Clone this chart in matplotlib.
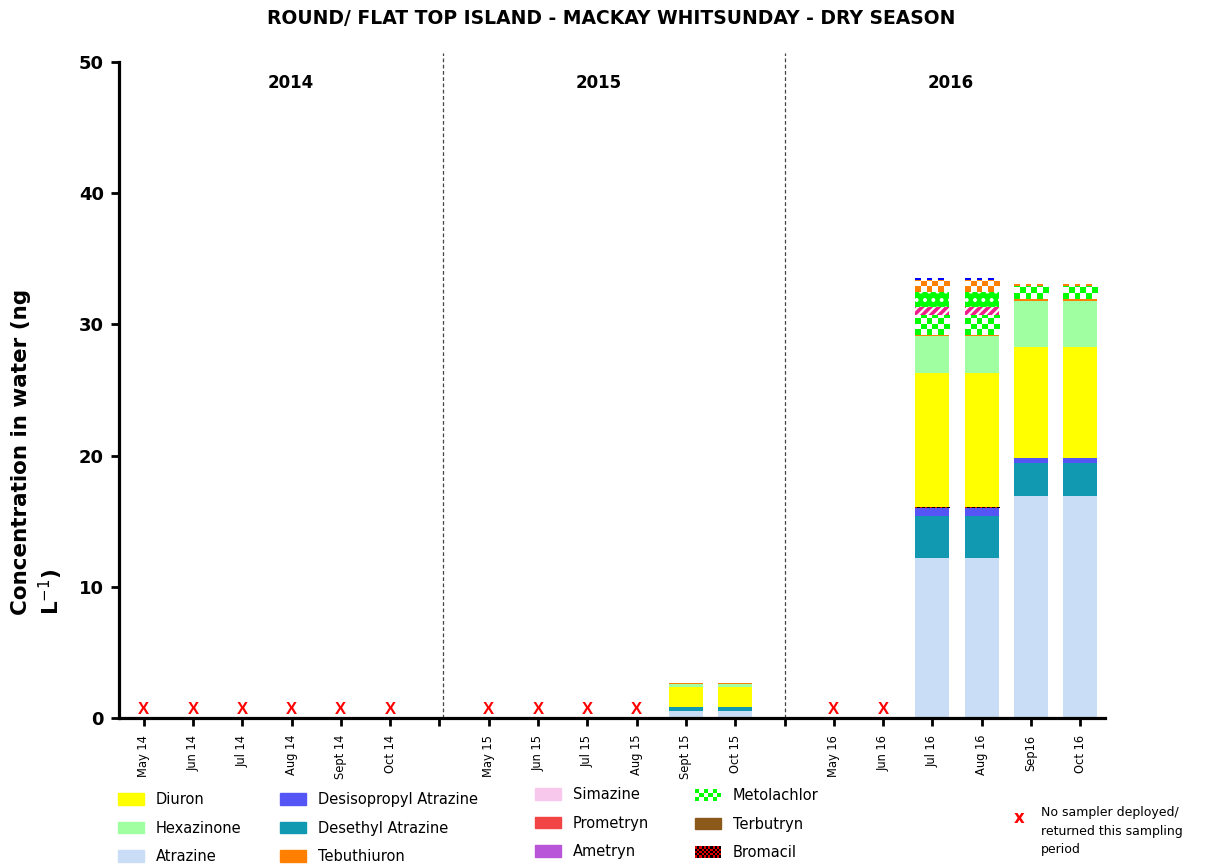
import numpy as np
import matplotlib
matplotlib.use("Agg")
import matplotlib.pyplot as plt
from matplotlib.patches import Rectangle, Patch
from matplotlib.legend_handler import HandlerBase
from matplotlib.colors import to_rgba

plt.rcParams["font.family"] = ["DejaVu Sans"]
plt.rcParams["hatch.linewidth"] = 1.6

# Sampling periods (dry season, May-Oct) and whether a passive sampler was returned
periods = ["May 14", "Jun 14", "Jul 14", "Aug 14", "Sept 14", "Oct 14",
           "May 15", "Jun 15", "Jul 15", "Aug 15", "Sept 15", "Oct 15",
           "May 16", "Jun 16", "Jul 16", "Aug 16", "Sep16", "Oct 16"]
years = ["2014", "2015", "2016"]
sampled = [0, 0, 0, 0, 0, 0,
           0, 0, 0, 0, 1, 1,
           0, 0, 1, 1, 1, 1]

# Concentrations in water (ng/L), one value per sampling period
atrazine      = [0] * 10 + [0.55, 0.55, 0, 0, 12.2, 12.2, 16.9, 16.9]
desethyl      = [0] * 10 + [0.27, 0.27, 0, 0, 3.2, 3.2, 2.5, 2.5]
desisopropyl  = [0] * 10 + [0.05, 0.05, 0, 0, 0.6, 0.6, 0.45, 0.45]
bromacil      = [0] * 10 + [0, 0, 0, 0, 0.08, 0.08, 0, 0]
diuron        = [0] * 10 + [1.5, 1.5, 0, 0, 10.2, 10.2, 8.4, 8.4]
hexazinone    = [0] * 10 + [0.25, 0.25, 0, 0, 2.8, 2.8, 3.55, 3.55]
tebuthiuron   = [0] * 10 + [0.08, 0.08, 0, 0, 0.1, 0.1, 0.1, 0.1]
metolachlor   = [0] * 10 + [0, 0, 0, 0, 1.5, 1.5, 1.0, 1.0]
simazine      = [0] * 18
prometryn     = [0] * 18
ametryn       = [0] * 18
terbutryn     = [0] * 18
# further compounds shown in the stacks without a legend key
other_pink    = [0] * 10 + [0, 0, 0, 0, 0.65, 0.65, 0, 0]
other_green   = [0] * 10 + [0, 0, 0, 0, 1.15, 1.15, 0, 0]
other_orange  = [0] * 10 + [0, 0, 0, 0, 0.9, 0.9, 0.18, 0.18]
other_blue    = [0] * 10 + [0, 0, 0, 0, 0.15, 0.15, 0, 0]

C_ATR = "#c9ddf6"
C_DEA = "#1199b2"
C_DIA = "#5555f5"
C_DIU = "#ffff00"
C_HEX = "#a0ffa0"
C_TEB = "#ff8000"
C_SIM = "#f8c8ec"
C_PRO = "#f24444"
C_AME = "#b855d8"
C_MET = "#00ff00"
C_TER = "#8b5a1a"
C_BRO = "#e00000"

# stacking order, bottom to top: (values, kind, colour)
layers = [
    (atrazine, "solid", C_ATR),
    (desethyl, "solid", C_DEA),
    (desisopropyl, "solid", C_DIA),
    (simazine, "solid", C_SIM),
    (prometryn, "solid", C_PRO),
    (ametryn, "solid", C_AME),
    (terbutryn, "solid", C_TER),
    (bromacil, "fine", C_BRO),
    (diuron, "solid", C_DIU),
    (hexazinone, "solid", C_HEX),
    (tebuthiuron, "solid", C_TEB),
    (metolachlor, "checker", C_MET),
    (other_pink, "stripes", "#f01e8c"),
    (other_green, "dots", "#00ff00"),
    (other_orange, "checker", "#ff8000"),
    (other_blue, "checker", "#0000ff"),
]

fig = plt.figure(figsize=(12.09, 8.65), dpi=100)
ax = fig.add_axes([119 / 1209, 1 - 718 / 865, (1105 - 119) / 1209, (718 - 62) / 865])

n = len(periods)
x = np.array([i + i // 6 for i in range(n)], dtype=float)   # one empty slot between years
width = 0.69
CELL_H = 0.42


def add_checker(patch, color, background, ncols, cell_h):
    x0, y0 = patch.get_x(), patch.get_y()
    w, h = patch.get_width(), patch.get_height()
    nrows = max(1, int(np.ceil(h / cell_h)))
    ii, jj = np.indices((nrows, ncols))
    img = np.empty((nrows, ncols, 4))
    img[:] = to_rgba(background)
    img[(ii + jj) % 2 == 0] = to_rgba(color)
    im = ax.imshow(img, extent=(x0, x0 + w, y0, y0 + nrows * cell_h), origin="lower",
                   aspect="auto", interpolation="nearest", zorder=1.5)
    im.set_clip_path(patch)


bottom = np.zeros(n)
for vals, kind, color in layers:
    v = np.array(vals, dtype=float)
    if kind == "solid":
        ax.bar(x, v, width, bottom=bottom, color=color, linewidth=0, zorder=1)
    elif kind == "stripes":
        ax.bar(x, v, width, bottom=bottom, facecolor=color, edgecolor="white",
               hatch="////", linewidth=0, zorder=1)
    elif kind == "dots":
        ax.bar(x, v, width, bottom=bottom, facecolor=color, edgecolor="white",
               hatch="..", linewidth=0, zorder=1)
    else:
        bars = ax.bar(x, v, width, bottom=bottom, color="white", linewidth=0, zorder=1)
        for patch, h in zip(bars.patches, v):
            if h > 0:
                if kind == "fine":
                    add_checker(patch, color, "black", 14, 0.08)
                else:
                    add_checker(patch, color, "white", 6, CELL_H)
    bottom += v

# no sampler deployed / returned
for xi, s in zip(x, sampled):
    if not s:
        ax.text(xi, 0.62, "X", color="#ff0000", ha="center", va="center",
                fontsize=12, fontweight="bold", family="Liberation Sans", zorder=3)

# year separators and labels
for xs in (6.08, 13.0):
    ax.plot([xs, xs], [0, 50.7], color="#444444", linewidth=0.9,
            linestyle=(0, (3, 2)), clip_on=False, zorder=0.5)
for xy, yr in zip((2.98, 9.22, 16.36), years):
    ax.text(xy, 48.4, yr, ha="center", va="center", fontsize=12, fontweight="bold")

ax.set_xlim(-0.5, 19.5)
ax.set_ylim(0, 50)
ax.set_yticks(np.arange(0, 51, 10))
ax.set_yticklabels([str(t) for t in range(0, 51, 10)], fontsize=13, fontweight="bold")
ticks = np.arange(20)
labels = [""] * 20
for xi, p in zip(x, periods):
    labels[int(xi)] = p
ax.set_xticks(ticks)
ax.set_xticklabels(labels, rotation=90, fontsize=8.3, va="top")
ax.tick_params(axis="x", length=6, width=2, pad=6)
ax.tick_params(axis="y", length=6, width=2, pad=5)
for side in ("top", "right"):
    ax.spines[side].set_visible(False)
for side in ("left", "bottom"):
    ax.spines[side].set_linewidth(2.3)

fig.text(611 / 1209, 1 - 18 / 865, "ROUND/ FLAT TOP ISLAND - MACKAY WHITSUNDAY - DRY SEASON",
         ha="center", va="center", fontsize=13.5, fontweight="bold")
fig.text(38 / 1209, 1 - 615 / 865, "Concentration in water (ng\nL$^{-1}$)",
         rotation=90, ha="center", va="bottom", multialignment="left",
         fontsize=15.5, fontweight="bold", linespacing=1.3)


# legend swatches with a checkerboard fill
class CheckerSwatch(Patch):
    def __init__(self, cell_color, background, cells, **kw):
        super().__init__(**kw)
        self.cell_color = cell_color
        self.background = background
        self.cells = cells


class HandlerChecker(HandlerBase):
    def create_artists(self, legend, orig_handle, xdescent, ydescent, width, height,
                       fontsize, trans):
        nx, ny = orig_handle.cells
        arts = [Rectangle((-xdescent, -ydescent), width, height,
                          facecolor=orig_handle.background, edgecolor="none", transform=trans)]
        cw, ch = width / nx, height / ny
        for i in range(nx):
            for j in range(ny):
                if (i + j) % 2 == 0:
                    arts.append(Rectangle((-xdescent + i * cw, -ydescent + j * ch), cw, ch,
                                          facecolor=orig_handle.cell_color, edgecolor="none",
                                          transform=trans))
        return arts


columns = [
    ([Patch(color=C_DIU), Patch(color=C_HEX), Patch(color=C_ATR)],
     ["Diuron", "Hexazinone", "Atrazine"], (118, 792)),
    ([Patch(color=C_DIA), Patch(color=C_DEA), Patch(color=C_TEB)],
     ["Desisopropyl Atrazine", "Desethyl Atrazine", "Tebuthiuron"], (280, 792)),
    ([Patch(color=C_SIM), Patch(color=C_PRO), Patch(color=C_AME)],
     ["Simazine", "Prometryn", "Ametryn"], (535, 787)),
    ([CheckerSwatch(C_MET, "white", (6, 3)), Patch(color=C_TER),
      CheckerSwatch(C_BRO, "black", (12, 5))],
     ["Metolachlor", "Terbutryn", "Bromacil"], (695, 788)),
]
for handles, names, (px, py) in columns:
    fig.legend(handles, names, loc="upper left", bbox_to_anchor=(px / 1209, 1 - py / 865),
               bbox_transform=fig.transFigure, frameon=False, fontsize=10.5,
               borderpad=0, borderaxespad=0, handlelength=1.8, handleheight=0.82,
               handletextpad=0.8, labelspacing=0.93,
               handler_map={CheckerSwatch: HandlerChecker()})

fig.text(1019 / 1209, 1 - 818 / 865, "x", color="#ff0000", ha="center", va="center",
         fontsize=12, fontweight="bold")
fig.text(1041 / 1209, 1 - 806 / 865, "No sampler deployed/\nreturned this sampling\nperiod",
         ha="left", va="top", fontsize=9, linespacing=1.55)

fig.savefig("out.png", dpi=100)
